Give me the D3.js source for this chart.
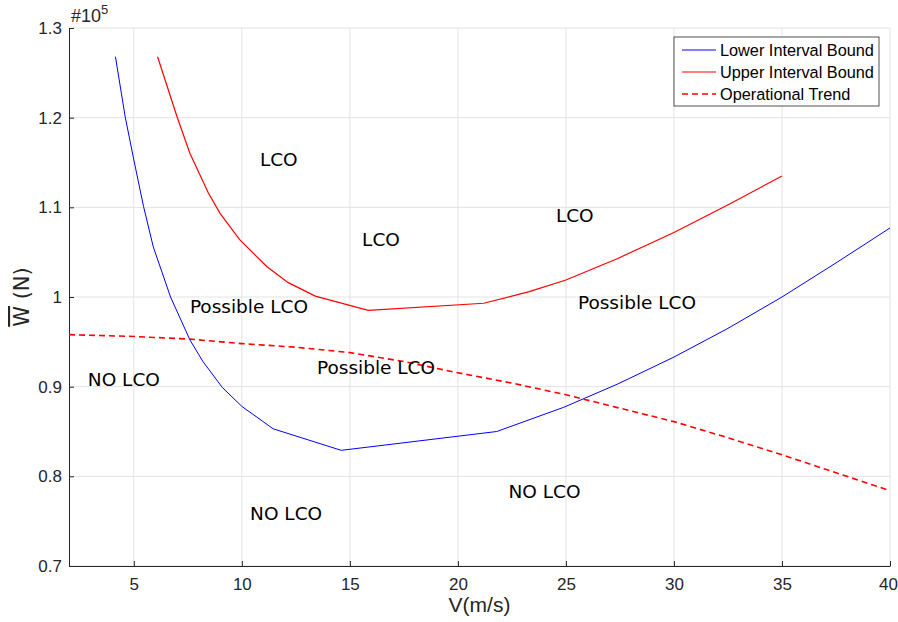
<!DOCTYPE html>
<html>
<head>
<meta charset="utf-8">
<script src="https://cdn.jsdelivr.net/npm/d3@7"></script>
<style>
  body { margin: 0; background: #fff; }
  svg { display: block; }
</style>
</head>
<body>
<div id="chart"></div>
<script>
// lower interval bound (blue)
const lowerV = [4.15, 4.6, 5.0, 5.45, 5.9, 6.7, 7.6, 8.2, 9.1, 10.0, 11.45, 14.6, 21.8, 24.9, 27.4, 30.0, 32.5, 35.0, 37.5, 40.0];
const lowerW = [1.268, 1.201, 1.153, 1.101, 1.056, 1.000, 0.952, 0.928, 0.899, 0.878, 0.853, 0.829, 0.850, 0.877, 0.903, 0.933, 0.965, 1.000, 1.038, 1.077];

// upper interval bound (red)
const upperV = [6.1, 7.0, 7.6, 8.45, 9.0, 9.9, 11.15, 12.15, 13.4, 15.85, 21.2, 23.3, 25.0, 27.4, 30.0, 32.6, 35.0];
const upperW = [1.268, 1.201, 1.160, 1.116, 1.093, 1.064, 1.034, 1.016, 1.001, 0.985, 0.993, 1.006, 1.019, 1.043, 1.072, 1.104, 1.135];

// operational trend (red dashed)
const trendV = [2, 5, 7.6, 10, 12.5, 15, 17.5, 20, 22.5, 25, 27.5, 30, 32.5, 35, 37.5, 40];
const trendW = [0.958, 0.956, 0.953, 0.948, 0.944, 0.938, 0.928, 0.9155, 0.904, 0.891, 0.876, 0.861, 0.843, 0.824, 0.804, 0.784];

// region annotations (center positions in data units)
const regionText = ["LCO", "LCO", "LCO", "Possible LCO", "Possible LCO", "Possible LCO", "NO LCO", "NO LCO", "NO LCO"];
const regionV = [11.71, 16.44, 25.41, 10.33, 28.29, 16.21, 4.54, 12.05, 24.01];
const regionW = [1.153, 1.064, 1.091, 0.990, 0.994, 0.922, 0.908, 0.759, 0.783];

const xTicks = [5, 10, 15, 20, 25, 30, 35, 40];
const yTicks = [0.7, 0.8, 0.9, 1.0, 1.1, 1.2, 1.3];

const legendNames = ["Lower Interval Bound", "Upper Interval Bound", "Operational Trend"];

const width = 898, height = 622;
const margin = {left: 69, right: 8, top: 28, bottom: 56};
const sans = "Liberation Sans, Arial, sans-serif";

const svg = d3.select("#chart").append("svg")
  .attr("width", width)
  .attr("height", height);

const x = d3.scaleLinear().domain([2, 40]).range([margin.left, width - margin.right]);
const y = d3.scaleLinear().domain([0.7, 1.3]).range([height - margin.bottom, margin.top]);

// grid
svg.append("g").selectAll("line").data(xTicks).join("line")
  .attr("x1", d => x(d)).attr("x2", d => x(d))
  .attr("y1", y(0.7)).attr("y2", y(1.3))
  .attr("stroke", "#e3e3e3").attr("stroke-width", 1);
svg.append("g").selectAll("line").data(yTicks).join("line")
  .attr("x1", x(2)).attr("x2", x(40))
  .attr("y1", d => y(d)).attr("y2", d => y(d))
  .attr("stroke", "#e3e3e3").attr("stroke-width", 1);

// axes
const xAxis = svg.append("g")
  .attr("transform", `translate(0,${y(0.7)})`)
  .call(d3.axisBottom(x).tickValues(xTicks).tickSizeInner(-5).tickSizeOuter(0).tickPadding(12).tickFormat(d3.format("d")));
const yAxis = svg.append("g")
  .attr("transform", `translate(${x(2)},0)`)
  .call(d3.axisLeft(y).tickValues(yTicks).tickSizeInner(-5).tickSizeOuter(0).tickPadding(7).tickFormat(d => String(+d.toFixed(1))));
[xAxis, yAxis].forEach(a => {
  a.attr("font-family", sans).attr("font-size", 17);
  a.select(".domain").attr("stroke", "#262626");
  a.selectAll(".tick line").attr("stroke", "#262626");
  a.selectAll(".tick text").attr("fill", "#262626");
});
// keep the last label inside the window
xAxis.selectAll(".tick text").filter(d => d === 40).attr("dx", -2);

// lines
const line = d3.line().x(d => x(d[0])).y(d => y(d[1]));
const series = [
  {pts: d3.zip(lowerV, lowerW), color: "#0000ff", dash: null, w: 1},
  {pts: d3.zip(upperV, upperW), color: "#ff0000", dash: null, w: 1.2},
  {pts: d3.zip(trendV, trendW), color: "#ff0000", dash: "6,4", w: 1.6}
];
svg.append("g").selectAll("path").data(series).join("path")
  .attr("d", d => line(d.pts))
  .attr("fill", "none")
  .attr("stroke", d => d.color)
  .attr("stroke-width", d => d.w)
  .attr("stroke-dasharray", d => d.dash);

// region labels
svg.append("g").selectAll("text").data(regionText).join("text")
  .attr("x", (d, i) => x(regionV[i]))
  .attr("y", (d, i) => y(regionW[i]))
  .attr("dy", "0.36em")
  .attr("text-anchor", "middle")
  .attr("font-family", "DejaVu Sans, sans-serif")
  .attr("font-size", 18.5)
  .attr("fill", "#000")
  .text(d => d);

// exponent
const expo = svg.append("text")
  .attr("x", 71).attr("y", 22)
  .attr("font-family", sans)
  .attr("font-size", 18).attr("fill", "#262626");
expo.append("tspan").text("#10");
expo.append("tspan").attr("font-size", 13).attr("dy", -8).text("5");

// axis titles
svg.append("text")
  .attr("x", x(21)).attr("y", 612)
  .attr("text-anchor", "middle")
  .attr("font-family", sans)
  .attr("font-size", 21).attr("fill", "#262626")
  .text("V(m/s)");

const yl = svg.append("text")
  .attr("transform", `translate(29,${y(1.0)}) rotate(-90)`)
  .attr("text-anchor", "middle")
  .attr("font-family", "DejaVu Sans, sans-serif")
  .attr("font-size", 21).attr("fill", "#262626");
yl.append("tspan").style("text-decoration", "overline").text("W");
yl.append("tspan").text(" (N)");

// legend
const lg = svg.append("g").attr("transform", "translate(674,37)");
lg.append("rect").attr("width", 205).attr("height", 69)
  .attr("fill", "#fff").attr("stroke", "#262626").attr("stroke-width", 0.8);
const rows = lg.selectAll("g").data(legendNames).join("g")
  .attr("transform", (d, i) => `translate(0,${13 + i * 22})`);
rows.append("line")
  .attr("x1", 8).attr("x2", 42).attr("y1", 0).attr("y2", 0)
  .attr("stroke", (d, i) => series[i].color)
  .attr("stroke-width", (d, i) => series[i].w)
  .attr("stroke-dasharray", (d, i) => series[i].dash);
rows.append("text")
  .attr("x", 46).attr("dy", "0.36em")
  .attr("font-family", sans)
  .attr("font-size", 16.3).attr("fill", "#000")
  .text(d => d);
</script>
</body>
</html>
